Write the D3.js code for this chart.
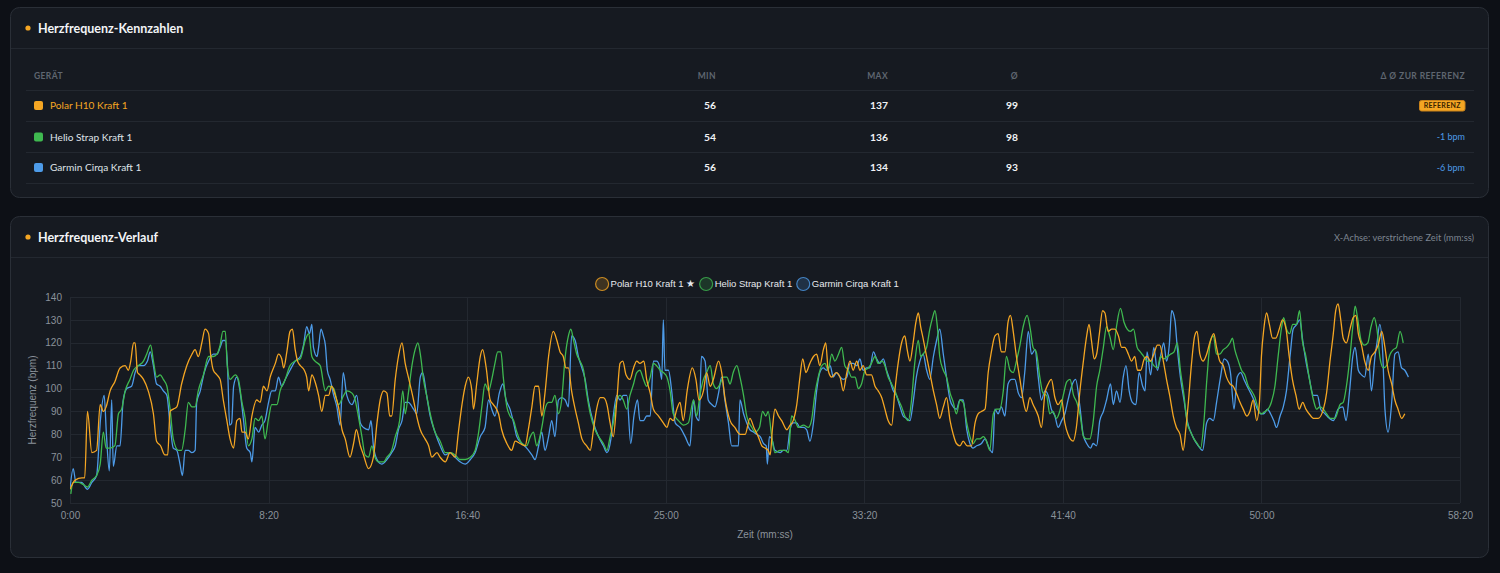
<!DOCTYPE html>
<html><head><meta charset="utf-8">
<script src="https://cdn.jsdelivr.net/npm/d3@7/dist/d3.min.js"></script>
<style>
html,body{margin:0;padding:0;background:#0d1016;}
svg{display:block;}
</style></head><body>
<svg id="c" width="1500" height="573"></svg>
<script>
// ---------- data ----------
const devices = ["Polar H10 Kraft 1", "Helio Strap Kraft 1", "Garmin Cirqa Kraft 1"];
const deviceColors = ["#f5a623", "#3fb950", "#4d9be8"];
const statMin = [56, 54, 56];
const statMax = [137, 136, 134];
const statAvg = [99, 98, 93];
const statDelta = ["REFERENZ", "-1 bpm", "-6 bpm"];
const tableHeaders = ["GERÄT", "MIN", "MAX", "Ø", "Δ Ø ZUR REFERENZ"];
const legendLabels = ["Polar H10 Kraft 1 ★", "Helio Strap Kraft 1", "Garmin Cirqa Kraft 1"];
const yTicks = [50, 60, 70, 80, 90, 100, 110, 120, 130, 140];
const xTicks = [0, 500, 1000, 1500, 2000, 2500, 3000, 3500];

// [elapsed seconds, bpm]
const polar = [[0,56],[13,60],[30,61],[37,61],[44,90],[55,72],[67,73],[76,93],[84,90],[91,92],[101,99],[113,103],[126,109],[139,110],[147,108],[153,112],[160,120],[164,120],[170,107],[176,106],[185,104],[197,99],[210,89],[218,77],[228,75],[239,71],[246,71],[252,90],[260,91],[269,92],[281,102],[294,110],[307,115],[315,117],[323,114],[332,120],[340,126],[349,124],[354,115],[361,108],[370,106],[378,104],[386,95],[395,86],[403,78],[412,74],[420,86],[428,87],[433,81],[441,81],[449,78],[458,88],[470,95],[479,94],[487,101],[496,99],[504,105],[517,111],[525,115],[533,113],[538,109],[546,116],[554,125],[560,126],[567,117],[573,112],[580,110],[590,108],[596,105],[601,99],[609,106],[617,103],[626,97],[634,90],[643,97],[651,97],[659,101],[668,97],[676,92],[685,82],[693,78],[705,70],[714,76],[721,82],[731,75],[739,71],[752,65],[764,70],[773,85],[781,95],[790,99],[798,98],[805,88],[810,88],[819,104],[827,114],[836,120],[844,111],[852,105],[865,95],[873,88],[882,82],[894,78],[903,75],[911,70],[924,72],[932,70],[945,68],[957,72],[970,70],[978,81],[987,93],[995,101],[1003,105],[1012,99],[1016,91],[1024,102],[1033,114],[1039,117],[1048,109],[1058,95],[1066,93],[1079,89],[1087,82],[1100,76],[1112,73],[1121,77],[1133,76],[1146,75],[1154,82],[1163,92],[1171,101],[1180,101],[1188,88],[1196,98],[1205,114],[1217,125],[1226,121],[1234,116],[1242,114],[1249,109],[1255,109],[1263,99],[1272,91],[1280,85],[1289,78],[1301,75],[1310,73],[1318,82],[1326,91],[1335,96],[1343,96],[1352,93],[1360,85],[1368,79],[1377,95],[1385,111],[1392,112],[1400,106],[1410,104],[1419,109],[1427,112],[1435,111],[1445,112],[1452,104],[1461,98],[1469,91],[1482,88],[1494,85],[1503,83],[1511,87],[1519,86],[1528,91],[1536,94],[1544,86],[1554,99],[1567,109],[1576,104],[1584,95],[1595,99],[1603,107],[1612,101],[1620,104],[1633,112],[1641,107],[1649,96],[1662,86],[1674,83],[1687,80],[1700,80],[1712,87],[1722,83],[1733,79],[1742,75],[1750,74],[1758,73],[1763,71],[1769,83],[1775,91],[1784,88],[1792,86],[1805,82],[1813,84],[1821,86],[1830,93],[1838,105],[1845,113],[1853,107],[1863,111],[1872,114],[1880,115],[1888,110],[1897,117],[1903,120],[1909,108],[1918,105],[1929,107],[1939,105],[1947,99],[1956,107],[1964,112],[1972,108],[1981,112],[1989,108],[1997,110],[2006,106],[2018,106],[2027,101],[2035,99],[2044,96],[2052,91],[2060,86],[2069,84],[2077,99],[2086,112],[2094,120],[2102,123],[2108,117],[2115,112],[2123,120],[2130,129],[2136,133],[2142,127],[2148,122],[2157,114],[2165,107],[2174,99],[2182,93],[2190,87],[2199,92],[2207,96],[2216,86],[2224,80],[2232,76],[2241,75],[2249,77],[2259,75],[2270,75],[2279,85],[2287,89],[2295,90],[2304,91],[2312,107],[2320,116],[2329,123],[2337,124],[2345,116],[2354,116],[2362,129],[2368,132],[2375,125],[2383,114],[2392,104],[2400,95],[2408,90],[2417,96],[2425,93],[2438,88],[2446,83],[2455,98],[2463,102],[2471,104],[2480,96],[2488,93],[2497,95],[2505,85],[2513,80],[2526,77],[2534,83],[2543,99],[2551,111],[2560,123],[2566,128],[2572,121],[2579,113],[2585,115],[2592,124],[2600,134],[2606,133],[2614,125],[2623,126],[2631,126],[2640,123],[2648,118],[2656,118],[2665,115],[2673,112],[2681,114],[2688,108],[2696,108],[2705,113],[2712,114],[2721,112],[2729,115],[2738,119],[2744,119],[2753,112],[2761,104],[2769,97],[2778,88],[2786,83],[2795,80],[2803,73],[2810,83],[2816,94],[2824,111],[2832,123],[2838,125],[2845,115],[2853,112],[2862,115],[2870,120],[2880,124],[2887,118],[2895,112],[2904,110],[2912,105],[2921,102],[2929,101],[2937,98],[2946,94],[2954,91],[2963,88],[2971,90],[2979,95],[2988,86],[2995,94],[3000,114],[3006,126],[3013,133],[3020,128],[3028,122],[3036,122],[3045,126],[3053,130],[3062,126],[3070,114],[3078,104],[3087,97],[3095,91],[3104,94],[3112,91],[3120,89],[3131,87],[3143,87],[3156,91],[3164,98],[3172,111],[3181,124],[3187,134],[3193,137],[3199,131],[3206,122],[3214,120],[3223,126],[3231,131],[3238,132],[3244,124],[3252,119],[3260,112],[3269,108],[3277,114],[3286,116],[3294,119],[3303,125],[3311,118],[3319,108],[3328,102],[3336,95],[3344,91],[3353,87],[3361,89]];

const helio = [[2,54],[8,59],[21,59],[34,58],[44,57],[55,60],[67,62],[76,67],[84,81],[91,74],[101,74],[113,75],[122,89],[130,91],[139,99],[151,104],[160,108],[172,110],[185,112],[193,115],[203,119],[210,112],[218,105],[227,106],[235,104],[244,101],[252,91],[260,78],[273,73],[281,73],[290,82],[298,94],[307,92],[315,92],[323,99],[336,106],[349,114],[361,114],[370,115],[378,119],[385,125],[391,125],[396,110],[403,104],[416,106],[424,104],[433,94],[441,87],[449,75],[458,78],[466,87],[475,86],[483,88],[491,78],[500,87],[508,93],[521,93],[529,99],[542,104],[554,110],[567,112],[580,113],[592,121],[601,124],[609,114],[617,112],[630,110],[643,99],[651,101],[664,100],[676,93],[689,97],[697,99],[710,98],[718,95],[726,88],[735,79],[743,71],[752,70],[760,75],[768,70],[777,68],[790,68],[798,70],[810,73],[819,79],[830,86],[838,99],[844,89],[852,98],[861,110],[869,117],[876,120],[883,114],[890,104],[898,97],[907,89],[919,81],[932,77],[945,72],[957,72],[970,71],[982,69],[995,69],[1008,70],[1020,73],[1029,81],[1037,92],[1045,102],[1054,99],[1062,104],[1070,111],[1077,116],[1085,116],[1091,105],[1100,92],[1108,88],[1117,86],[1125,81],[1138,76],[1150,75],[1159,79],[1167,81],[1175,75],[1188,83],[1196,91],[1205,94],[1213,94],[1221,97],[1230,89],[1238,95],[1247,114],[1255,123],[1261,126],[1268,121],[1276,115],[1284,112],[1293,108],[1301,98],[1310,89],[1322,82],[1335,78],[1343,76],[1352,73],[1360,79],[1368,85],[1377,95],[1385,97],[1393,95],[1402,91],[1410,97],[1419,102],[1427,107],[1435,108],[1444,104],[1452,101],[1461,105],[1469,111],[1477,110],[1486,108],[1494,107],[1503,105],[1511,99],[1519,89],[1532,86],[1545,84],[1557,85],[1570,95],[1578,88],[1586,97],[1595,104],[1603,107],[1612,110],[1620,102],[1628,100],[1637,102],[1645,105],[1654,105],[1662,102],[1670,107],[1679,110],[1687,105],[1696,97],[1704,88],[1717,83],[1725,81],[1736,83],[1744,90],[1752,88],[1758,90],[1767,79],[1775,72],[1788,73],[1800,73],[1809,72],[1817,88],[1826,86],[1834,83],[1847,84],[1859,83],[1867,86],[1876,98],[1884,105],[1893,110],[1901,111],[1909,108],[1918,115],[1926,112],[1935,115],[1943,118],[1951,110],[1960,108],[1968,105],[1977,105],[1985,100],[1993,102],[2002,108],[2010,109],[2018,111],[2027,114],[2035,111],[2044,112],[2052,110],[2060,105],[2069,102],[2077,99],[2086,95],[2094,92],[2102,88],[2111,86],[2119,95],[2127,111],[2136,121],[2142,114],[2148,115],[2157,118],[2165,126],[2172,131],[2178,134],[2184,127],[2190,114],[2199,108],[2207,105],[2216,98],[2224,94],[2232,89],[2241,95],[2249,94],[2258,85],[2266,79],[2274,76],[2283,78],[2291,78],[2300,79],[2308,77],[2316,73],[2325,89],[2333,91],[2341,91],[2350,99],[2358,114],[2367,108],[2375,107],[2383,112],[2392,119],[2400,127],[2410,132],[2418,126],[2425,118],[2433,116],[2442,105],[2450,98],[2459,97],[2467,89],[2475,90],[2484,87],[2492,90],[2501,97],[2510,103],[2518,104],[2527,97],[2535,94],[2544,88],[2552,79],[2560,78],[2568,78],[2576,85],[2585,101],[2593,108],[2602,118],[2610,127],[2618,123],[2627,117],[2635,127],[2645,135],[2654,129],[2662,126],[2670,125],[2678,126],[2687,118],[2695,116],[2704,114],[2712,112],[2721,112],[2729,110],[2738,109],[2746,114],[2754,113],[2763,114],[2771,115],[2780,116],[2788,120],[2796,108],[2805,97],[2813,85],[2822,81],[2830,78],[2838,76],[2847,74],[2855,85],[2863,105],[2872,121],[2879,123],[2887,115],[2895,115],[2904,117],[2912,118],[2921,120],[2927,122],[2933,117],[2942,112],[2950,108],[2958,106],[2967,101],[2975,99],[2984,96],[2992,91],[3000,89],[3009,90],[3017,91],[3025,94],[3034,101],[3042,114],[3051,127],[3056,131],[3063,126],[3071,124],[3079,128],[3088,128],[3096,134],[3103,121],[3112,114],[3120,105],[3131,95],[3139,91],[3147,92],[3156,91],[3164,89],[3174,87],[3185,87],[3198,93],[3206,94],[3214,101],[3223,114],[3230,127],[3236,136],[3242,131],[3251,121],[3259,119],[3268,120],[3276,127],[3284,131],[3290,127],[3299,113],[3307,109],[3315,110],[3324,115],[3332,117],[3340,118],[3349,125],[3357,120]];

const garmin = [[0,56],[8,65],[15,59],[29,59],[44,56],[55,59],[67,62],[77,87],[86,97],[92,79],[99,64],[105,95],[109,66],[118,75],[126,75],[134,95],[143,100],[155,101],[164,107],[172,110],[185,110],[195,112],[202,116],[210,110],[218,102],[227,101],[235,99],[244,97],[252,84],[260,74],[269,73],[277,67],[283,62],[290,73],[298,73],[307,72],[315,73],[319,94],[328,99],[338,107],[349,112],[361,115],[370,115],[378,118],[385,121],[391,121],[397,108],[402,84],[407,85],[412,101],[420,105],[428,99],[437,86],[445,74],[454,72],[458,68],[466,83],[475,81],[483,84],[491,86],[500,94],[508,99],[517,99],[525,105],[533,101],[542,104],[554,108],[567,112],[580,114],[588,119],[596,127],[603,124],[609,128],[613,118],[622,114],[626,118],[632,126],[638,123],[643,119],[648,108],[655,104],[664,97],[672,92],[680,84],[688,107],[697,97],[710,93],[722,97],[731,85],[739,83],[752,82],[758,86],[764,75],[773,69],[785,67],[798,69],[810,72],[819,75],[827,82],[836,86],[844,94],[852,94],[865,91],[873,89],[882,105],[888,107],[898,97],[907,88],[919,81],[932,75],[945,71],[957,72],[970,70],[982,68],[995,67],[1008,69],[1020,72],[1033,79],[1045,83],[1054,95],[1062,91],[1070,88],[1081,98],[1090,102],[1098,95],[1108,91],[1117,85],[1125,79],[1138,76],[1150,74],[1163,71],[1171,69],[1180,75],[1188,81],[1196,73],[1205,79],[1213,86],[1221,79],[1230,95],[1238,96],[1247,95],[1255,92],[1263,123],[1272,121],[1280,114],[1289,109],[1297,104],[1305,95],[1318,85],[1331,79],[1343,75],[1352,72],[1362,78],[1368,88],[1377,97],[1385,95],[1393,97],[1402,97],[1412,76],[1420,88],[1429,95],[1435,86],[1444,86],[1452,88],[1461,88],[1469,112],[1477,112],[1484,110],[1490,104],[1494,130],[1498,108],[1507,108],[1515,99],[1524,85],[1536,83],[1549,79],[1561,75],[1570,95],[1576,88],[1584,86],[1590,114],[1599,112],[1607,95],[1616,93],[1624,92],[1633,98],[1641,105],[1649,95],[1658,85],[1666,75],[1674,75],[1683,75],[1687,95],[1696,89],[1704,85],[1712,82],[1721,81],[1729,80],[1738,79],[1746,76],[1753,75],[1756,67],[1761,79],[1767,78],[1775,73],[1788,72],[1796,73],[1805,73],[1813,82],[1821,85],[1830,85],[1838,83],[1847,83],[1855,82],[1863,77],[1872,85],[1880,99],[1888,107],[1897,109],[1905,108],[1914,110],[1922,105],[1930,107],[1939,105],[1947,104],[1956,105],[1964,111],[1972,111],[1981,110],[1989,113],[1997,108],[2006,109],[2014,109],[2023,116],[2031,113],[2039,111],[2048,113],[2056,108],[2064,104],[2073,99],[2081,97],[2090,92],[2098,88],[2106,87],[2115,86],[2123,94],[2131,105],[2140,112],[2148,115],[2157,108],[2165,104],[2174,114],[2182,121],[2190,126],[2199,115],[2207,105],[2216,95],[2224,92],[2232,91],[2241,95],[2249,95],[2258,82],[2266,76],[2274,74],[2283,75],[2295,76],[2304,78],[2312,75],[2323,72],[2329,91],[2337,89],[2345,92],[2354,88],[2362,102],[2371,104],[2379,104],[2388,98],[2396,96],[2404,107],[2413,125],[2421,115],[2430,117],[2438,105],[2446,95],[2455,99],[2463,97],[2471,91],[2480,88],[2488,83],[2497,86],[2505,89],[2513,95],[2522,101],[2532,104],[2543,92],[2551,80],[2560,76],[2570,74],[2576,76],[2585,75],[2593,86],[2602,90],[2610,95],[2620,102],[2627,93],[2635,99],[2644,94],[2652,105],[2659,110],[2667,99],[2675,94],[2684,93],[2692,107],[2701,101],[2707,99],[2712,116],[2721,106],[2729,118],[2738,108],[2746,114],[2754,120],[2761,112],[2768,119],[2774,134],[2782,130],[2788,118],[2796,105],[2805,95],[2813,86],[2822,81],[2830,78],[2841,75],[2852,73],[2862,85],[2870,87],[2879,86],[2887,94],[2897,105],[2906,113],[2914,112],[2922,107],[2931,91],[2939,105],[2948,107],[2956,104],[2964,101],[2973,98],[2981,95],[2990,91],[2998,89],[3006,89],[3015,91],[3023,89],[3031,86],[3038,83],[3047,88],[3055,92],[3063,99],[3072,114],[3080,126],[3089,128],[3096,130],[3104,121],[3112,112],[3120,105],[3131,97],[3141,97],[3149,91],[3160,89],[3171,87],[3181,86],[3193,91],[3205,92],[3213,86],[3222,99],[3230,114],[3236,118],[3244,108],[3252,106],[3260,105],[3269,115],[3277,99],[3286,114],[3291,120],[3298,128],[3305,117],[3311,91],[3319,81],[3328,94],[3336,115],[3344,116],[3353,109],[3361,108],[3370,105]];

const seriesList = [polar, helio, garmin];

// ---------- styles ----------
const C = {
  panel: "#161a21", border: "#2a2f37", sep: "#232830", text: "#e6e9ee",
  muted: "#6e7681", grid: "#232830", tick: "#8b929b"
};
const UI = "Lato, 'Noto Sans', sans-serif";
const CH = "'Liberation Sans', Arial, sans-serif";

const svg = d3.select("#c");

function panel(y, h) {
  svg.append("rect").attr("x", 10.5).attr("y", y + 0.5).attr("width", 1478).attr("height", h)
    .attr("rx", 9).attr("fill", C.panel).attr("stroke", C.border);
}
function header(y, title, sepY) {
  svg.append("circle").attr("cx", 28).attr("cy", y).attr("r", 2.6).attr("fill", "#f5a623");
  svg.append("text").attr("x", 38).attr("y", y).attr("dy", "0.36em").attr("fill", "#f2f4f7")
    .attr("font-family", UI).attr("font-weight", 700).attr("font-size", 12.5).text(title);
  svg.append("line").attr("x1", 11).attr("x2", 1488).attr("y1", sepY + 0.5).attr("y2", sepY + 0.5)
    .attr("stroke", C.sep);
}

// ---------- panel 1: table ----------
panel(7, 190);
header(28, "Herzfrequenz-Kennzahlen", 48);

const colX = [34, 716, 888, 1018, 1465];
const colAnchor = ["start", "end", "end", "end", "end"];
const tbl = svg.append("g");
tableHeaders.forEach((h, i) => {
  tbl.append("text").attr("x", colX[i]).attr("y", 75.5).attr("dy", "0.36em")
    .attr("text-anchor", colAnchor[i]).attr("fill", "#5f6670")
    .attr("font-family", UI).attr("font-weight", 700).attr("font-size", 8.5)
    .attr("letter-spacing", 0.4).text(h);
});
const rowY = [105.5, 137, 167.5];
const rowLines = [89.5, 121, 152, 183];
rowLines.forEach(y => tbl.append("line").attr("x1", 26).attr("x2", 1474)
  .attr("y1", Math.round(y) + 0.5).attr("y2", Math.round(y) + 0.5).attr("stroke", C.sep));

devices.forEach((d, i) => {
  const y = rowY[i];
  tbl.append("rect").attr("x", 34).attr("y", y - 4.5).attr("width", 9).attr("height", 9)
    .attr("rx", 2).attr("fill", deviceColors[i]);
  tbl.append("text").attr("x", 50).attr("y", y).attr("dy", "0.36em")
    .attr("fill", i === 0 ? deviceColors[0] : "#dfe3e8")
    .attr("font-family", UI).attr("font-size", 10.1).text(d);
  [statMin[i], statMax[i], statAvg[i]].forEach((v, j) => {
    tbl.append("text").attr("x", colX[j + 1]).attr("y", y).attr("dy", "0.36em")
      .attr("text-anchor", "end").attr("fill", "#f0f2f5")
      .attr("font-family", UI).attr("font-weight", 700).attr("font-size", 10.3).text(v);
  });
  if (i === 0) {
    tbl.append("rect").attr("x", 1419.5).attr("y", y - 5).attr("width", 45.5).attr("height", 10.5)
      .attr("rx", 2).attr("fill", "#f5a623").attr("stroke", "#c9821a");
    tbl.append("text").attr("x", 1442.2).attr("y", y + 0.3).attr("dy", "0.36em")
      .attr("text-anchor", "middle").attr("fill", "#3a2400")
      .attr("font-family", UI).attr("font-weight", 700).attr("font-size", 7)
      .attr("letter-spacing", 0.3).text(statDelta[i]);
  } else {
    tbl.append("text").attr("x", 1465).attr("y", y).attr("dy", "0.36em")
      .attr("text-anchor", "end").attr("fill", "#4d9be8")
      .attr("font-family", UI).attr("font-size", 9).text(statDelta[i]);
  }
});

// ---------- panel 2: chart ----------
panel(216, 341);
header(237, "Herzfrequenz-Verlauf", 257);
svg.append("text").attr("x", 1474).attr("y", 237.5).attr("dy", "0.36em").attr("text-anchor", "end")
  .attr("fill", "#7d8590").attr("font-family", UI).attr("font-size", 9.3)
  .text("X-Achse: verstrichene Zeit (mm:ss)");

const m = { l: 70, r: 1460, t: 297, b: 503 };
const x = d3.scaleLinear().domain([0, 3500]).range([m.l, m.r]);
const y = d3.scaleLinear().domain([50, 140]).range([m.b, m.t]);
const fmt = s => Math.floor(s / 60) + ":" + String(s % 60).padStart(2, "0");

const g = svg.append("g");
// grid
g.append("g").selectAll("line").data(yTicks).join("line")
  .attr("x1", m.l).attr("x2", m.r).attr("y1", d => Math.round(y(d)) + 0.5).attr("y2", d => Math.round(y(d)) + 0.5)
  .attr("stroke", C.grid);
g.append("g").selectAll("line").data(xTicks).join("line")
  .attr("y1", m.t).attr("y2", m.b).attr("x1", d => Math.round(x(d)) + 0.5).attr("x2", d => Math.round(x(d)) + 0.5)
  .attr("stroke", C.grid);

// axes
const yAxis = g.append("g").attr("transform", `translate(${m.l - 8},0)`)
  .call(d3.axisLeft(y).tickValues(yTicks).tickSize(0).tickPadding(0));
const xAxis = g.append("g").attr("transform", `translate(0,${m.b + 8})`)
  .call(d3.axisBottom(x).tickValues(xTicks).tickFormat(fmt).tickSize(0).tickPadding(0));
[yAxis, xAxis].forEach(a => {
  a.select(".domain").remove();
  a.selectAll("text").attr("fill", C.tick).attr("font-family", CH).attr("font-size", 10);
});
xAxis.selectAll("text").attr("dy", "0.75em");

svg.append("text").attr("transform", `translate(36,${(m.t + m.b) / 2}) rotate(-90)`)
  .attr("text-anchor", "middle").attr("fill", C.tick).attr("font-family", CH).attr("font-size", 10)
  .text("Herzfrequenz (bpm)");
svg.append("text").attr("x", (m.l + m.r) / 2).attr("y", 534).attr("dy", "0.36em")
  .attr("text-anchor", "middle").attr("fill", C.tick).attr("font-family", CH).attr("font-size", 10)
  .text("Zeit (mm:ss)");

// lines (first dataset on top)
const line = d3.line().x(d => x(d[0])).y(d => y(d[1])).curve(d3.curveMonotoneX);
svg.append("clipPath").attr("id", "pc").append("rect")
  .attr("x", m.l).attr("y", m.t - 4).attr("width", m.r - m.l).attr("height", m.b - m.t + 8);
const lg = svg.append("g").attr("clip-path", "url(#pc)");
[2, 1, 0].forEach(i => {
  lg.append("path").datum(seriesList[i]).attr("d", line).attr("fill", "none")
    .attr("stroke", deviceColors[i]).attr("stroke-width", 1.3).attr("stroke-linejoin", "round");
});

// legend
const leg = svg.append("g");
let cx = 0;
legendLabels.forEach((lab, i) => {
  const it = leg.append("g");
  it.append("circle").attr("cx", 7).attr("cy", 0).attr("r", 6.5)
    .attr("fill", d3.color(deviceColors[i]).copy({ opacity: 0.18 })).attr("stroke", deviceColors[i])
    .attr("stroke-opacity", 0.8).attr("stroke-width", 1.2);
  const t = it.append("text").attr("x", 15.5).attr("y", 0).attr("dy", "0.36em").attr("fill", "#e6e9ee")
    .attr("font-family", CH).attr("font-size", 9.5).text(lab);
  const w = 15.5 + t.node().getComputedTextLength();
  it.attr("transform", `translate(${cx},0)`);
  cx += w + 4;
});
const totalW = cx - 4;
leg.attr("transform", `translate(${747 - totalW / 2},284)`);
</script>
</body></html>
